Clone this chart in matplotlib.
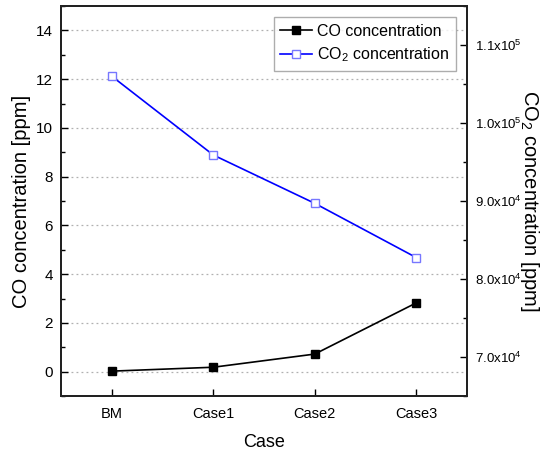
import matplotlib
matplotlib.use("Agg")
import matplotlib.pyplot as plt
from matplotlib.ticker import FixedLocator, MultipleLocator, FuncFormatter

plt.rcParams["font.family"] = ["Liberation Sans", "DejaVu Sans"]
plt.rcParams["mathtext.fontset"] = "custom"
plt.rcParams["mathtext.rm"] = "Liberation Sans"
plt.rcParams["mathtext.it"] = "Liberation Sans"

cases = ["BM", "Case1", "Case2", "Case3"]
co_ppm = [0.02, 0.18, 0.72, 2.82]
co2_ppm = [106000, 95900, 89700, 82750]

x = list(range(len(cases)))

fig = plt.figure(figsize=(5.46, 4.54), dpi=100)
ax = fig.add_axes([61 / 546, 1 - 396 / 454, (467 - 61) / 546, (396 - 6) / 454])
ax2 = ax.twinx()

l1, = ax.plot(x, co_ppm, color="black", lw=1.2, marker="s", ms=5.5,
              mfc="black", mec="black", label="CO concentration")
l2, = ax2.plot(x, co2_ppm, color="#0000ff", lw=1.2, marker="s", ms=6,
               mfc="white", mec="#7777ff", mew=1.0, label="CO$_2$ concentration")

ax.set_xlim(-0.5, 3.5)
ax.set_ylim(-1, 15)
ax2.set_ylim(65000, 115000)

ax.set_xticks(x)
ax.set_xticklabels(cases)
ax.yaxis.set_major_locator(MultipleLocator(2))
ax.yaxis.set_minor_locator(MultipleLocator(1))
ax2.yaxis.set_major_locator(FixedLocator([70000, 80000, 90000, 100000, 110000]))
ax2.yaxis.set_minor_locator(MultipleLocator(5000))


def sci(v, pos):
    e = len(str(int(v))) - 1
    return "%.1fx10$^{%d}$" % (v / 10 ** e, e)


ax2.yaxis.set_major_formatter(FuncFormatter(sci))

ax.grid(axis="y", linestyle=(0, (1.5, 2.5)), color="#b0b0b0", lw=0.9)
ax.set_axisbelow(True)

for a in (ax, ax2):
    for s in a.spines.values():
        s.set_linewidth(1.4)
        s.set_color("#222222")
ax.tick_params(axis="both", which="major", direction="in", length=5, width=1.0,
               labelsize=11, pad=6)
ax.tick_params(axis="y", which="minor", direction="in", length=3, width=1.0)
ax.tick_params(axis="x", which="major", labelsize=10.5, pad=8)
ax2.tick_params(axis="y", which="major", direction="in", length=5, width=1.0,
                labelsize=9.5, pad=6)
ax2.tick_params(axis="y", which="minor", direction="in", length=3, width=1.0)

ax.set_xlabel("Case", fontsize=13, labelpad=9)
ax.set_ylabel("CO concentration [ppm]", fontsize=14.5, va="center")
ax.yaxis.set_label_coords(-0.098, 0.5)
ax2.set_ylabel("CO$_2$ concentration [ppm]", fontsize=14.5, rotation=270, va="center")
ax2.yaxis.set_label_coords(1.155, 0.5)

leg = ax.legend(handles=[l1, l2], loc="upper right", fontsize=11.5, frameon=True,
                fancybox=False, edgecolor="#999999", handlelength=2.0,
                borderaxespad=0.7, borderpad=0.4, labelspacing=0.45,
                handletextpad=0.3)
leg.get_frame().set_linewidth(1.0)

fig.savefig("out.png", dpi=100)
